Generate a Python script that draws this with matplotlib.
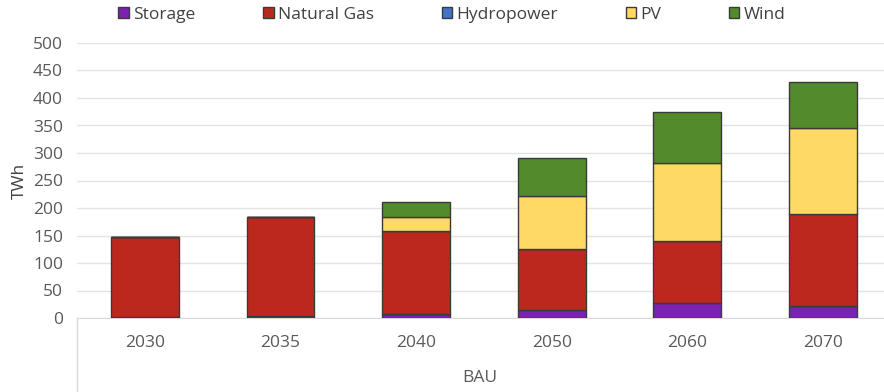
import matplotlib.pyplot as plt
import numpy as np

plt.rcParams['font.family'] = ['Open Sans', 'DejaVu Sans']

years = ['2030', '2035', '2040', '2050', '2060', '2070']
storage = [1, 3, 7, 15, 28, 22]
natural_gas = [147, 180, 152, 111, 112, 168]
hydropower = [0, 0, 0, 0, 0, 0]
pv = [0, 0, 25, 96, 141, 155]
wind = [0, 0, 27, 69, 94, 85]

series = [
    ('Storage', storage, '#7B22B2'),
    ('Natural Gas', natural_gas, '#BD281E'),
    ('Hydropower', hydropower, '#4472C4'),
    ('PV', pv, '#FFD966'),
    ('Wind', wind, '#538A2B'),
]

fig = plt.figure(figsize=(8.84, 3.92), dpi=100)
ax = fig.add_axes([77 / 884, 74 / 392, 1 - 77 / 884, 275 / 392])

x = np.arange(len(years))
bottom = np.zeros(len(years))
for name, vals, col in series:
    vals = np.array(vals, dtype=float)
    ax.bar(x, vals, 0.5, bottom=bottom, color=col, edgecolor='#3a3a3a',
           linewidth=1, label=name, zorder=3)
    bottom += vals

ax.set_xlim(-0.5, len(years) - 0.55)
ax.set_ylim(0, 500)
ax.set_yticks(np.arange(0, 501, 50))
ax.set_xticks(x)
ax.set_xticklabels(years)
ax.grid(axis='y', color='#e4e4e4', linewidth=1, zorder=0)
for s in ['top', 'right', 'left']:
    ax.spines[s].set_visible(False)
ax.spines['bottom'].set_color('#d9d9d9')
ax.tick_params(axis='both', length=0, labelsize=12.5, colors='#595959')
ax.tick_params(axis='x', pad=12)
ax.tick_params(axis='y', pad=10)
ax.set_ylabel('TWh', fontsize=12.5, color='#404040', labelpad=4)

# category group separator and label
ax.plot([0, 0], [0, -0.27], transform=ax.transAxes, color='#d9d9d9',
        linewidth=1, clip_on=False)
fig.text(480 / 884, 1 - 378 / 392, 'BAU', fontsize=12.5, color='#595959',
         ha='center', va='center')

fig.legend(loc='center', bbox_to_anchor=(452 / 884, 1 - 15 / 392), ncol=5,
           frameon=False, fontsize=12.5, handlelength=0.6, handleheight=0.6,
           handletextpad=0.25, columnspacing=3.9, labelcolor='#404040')

fig.savefig('out.png', dpi=100)
